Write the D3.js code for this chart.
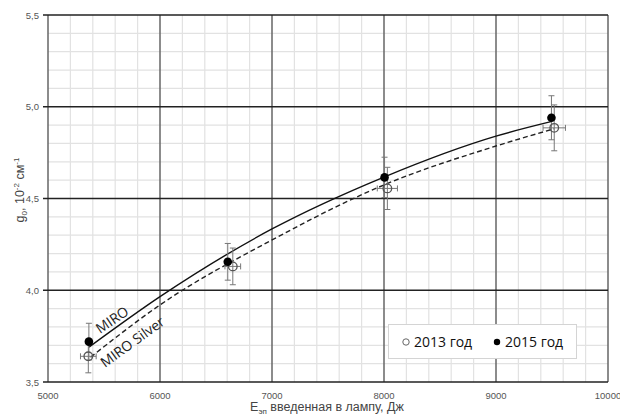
<!DOCTYPE html>
<html>
<head>
<meta charset="utf-8">
<script src="https://cdn.jsdelivr.net/npm/d3@7"></script>
<style>
  body { margin: 0; background: #fff; }
  svg { display: block; }
  .tick-label { font-family: "Liberation Sans", Arial, sans-serif; font-size: 9.5px; fill: #555; }
  .title { font-family: "Liberation Sans", Arial, sans-serif; font-size: 12.5px; fill: #444; }
  .curve-label { font-family: "Open Sans", sans-serif; font-size: 14px; fill: #222; }
  .legend { font-family: "Open Sans", sans-serif; font-size: 14px; fill: #111; }
</style>
</head>
<body>
<svg width="620" height="416"></svg>
<script>
// measured points, 2013
const energy2013 = [5360, 6650, 8030, 9520]
const g2013 = [3.64, 4.13, 4.555, 4.885]
const yerr2013 = [0.09, 0.1, 0.115, 0.125]
const xerr2013 = [70, 70, 90, 100]

// measured points, 2015
const energy2015 = [5365, 6605, 8005, 9495]
const g2015 = [3.72, 4.155, 4.615, 4.94]
const yerr2015 = [0.1, 0.1, 0.11, 0.12]

// fitted curves
const miroE = [5366, 6000, 7000, 8000, 9000, 9500]
const miroG = [3.69, 3.965, 4.334, 4.617, 4.84, 4.92]
const silverE = [5380, 6000, 7000, 8000, 9000, 9520]
const silverG = [3.635, 3.92, 4.274, 4.574, 4.786, 4.88]

const xTicks = [5000, 6000, 7000, 8000, 9000, 10000]
const yTicks = [3.5, 4.0, 4.5, 5.0, 5.5]

const svg = d3.select('svg')

const x = d3.scaleLinear().domain([5000, 10000]).range([48, 608])
const y = d3.scaleLinear().domain([3.5, 5.5]).range([382, 15])

// minor grid
svg.append('g')
  .selectAll('line')
  .data(d3.range(5000, 10001, 200).filter(v => v % 1000 !== 0))
  .enter()
  .append('line')
  .attr('x1', d => x(d)).attr('x2', d => x(d))
  .attr('y1', y(3.5)).attr('y2', y(5.5))
  .attr('stroke', '#e2e2e2').attr('stroke-width', 1.2)

svg.append('g')
  .selectAll('line')
  .data(d3.range(35, 56, 1).map(v => v / 10).filter(v => Math.round(v * 10) % 5 !== 0))
  .enter()
  .append('line')
  .attr('x1', x(5000)).attr('x2', x(10000))
  .attr('y1', d => y(d)).attr('y2', d => y(d))
  .attr('stroke', '#e2e2e2').attr('stroke-width', 1.2)

// major grid
svg.append('g')
  .selectAll('line')
  .data(xTicks)
  .enter()
  .append('line')
  .attr('x1', d => x(d)).attr('x2', d => x(d))
  .attr('y1', y(3.5)).attr('y2', y(5.5))
  .attr('stroke', '#666').attr('stroke-width', 1.5)

svg.append('g')
  .selectAll('line')
  .data(yTicks)
  .enter()
  .append('line')
  .attr('x1', x(5000) - 5).attr('x2', x(10000))
  .attr('y1', d => y(d)).attr('y2', d => y(d))
  .attr('stroke', '#222').attr('stroke-width', 1.4)

// tick labels
svg.append('g')
  .selectAll('text')
  .data(yTicks)
  .enter()
  .append('text')
  .attr('class', 'tick-label')
  .attr('x', x(5000) - 9)
  .attr('y', d => y(d) + 3.5)
  .attr('text-anchor', 'end')
  .text(d => d3.format('.1f')(d).replace('.', ','))

svg.append('g')
  .selectAll('text')
  .data(xTicks)
  .enter()
  .append('text')
  .attr('class', 'tick-label')
  .attr('x', d => x(d))
  .attr('y', 399)
  .attr('text-anchor', 'middle')
  .text(d => d)

// axis titles
const xt = svg.append('text').attr('class', 'title').attr('x', 327).attr('y', 411).attr('text-anchor', 'middle')
xt.append('tspan').text('E')
xt.append('tspan').attr('font-size', '8px').attr('dy', 3).text('эп')
xt.append('tspan').attr('dy', -3).text(' введенная  в лампу, Дж')

const yt = svg.append('text').attr('class', 'title')
  .attr('transform', 'translate(24,190) rotate(-90)').attr('text-anchor', 'middle')
yt.append('tspan').text('g')
yt.append('tspan').attr('font-size', '8px').attr('dy', 3).text('0')
yt.append('tspan').attr('dy', -3).text(', 10')
yt.append('tspan').attr('font-size', '8px').attr('dy', -5).text('-2')
yt.append('tspan').attr('dy', 5).text(' см')
yt.append('tspan').attr('font-size', '8px').attr('dy', -5).text('-1')

// curves
const line = d3.line().x(d => x(d[0])).y(d => y(d[1])).curve(d3.curveMonotoneX)

svg.append('path')
  .datum(d3.zip(miroE, miroG))
  .attr('d', line)
  .attr('fill', 'none').attr('stroke', '#111').attr('stroke-width', 1.4)

svg.append('path')
  .datum(d3.zip(silverE, silverG))
  .attr('d', line)
  .attr('fill', 'none').attr('stroke', '#222').attr('stroke-width', 1.4)
  .attr('stroke-dasharray', '5,3')

svg.append('text').attr('class', 'curve-label')
  .attr('transform', 'translate(100,334) rotate(-34)')
  .text('MIRO')
svg.append('text').attr('class', 'curve-label')
  .attr('transform', 'translate(105,368) rotate(-36)')
  .text('MIRO Silver')

// error bars
const pts2013 = d3.zip(energy2013, g2013, yerr2013, xerr2013)
const pts2015 = d3.zip(energy2015, g2015, yerr2015)
const cap = 3

const eb = svg.append('g').attr('stroke', '#777').attr('stroke-width', 1)
pts2015.concat(pts2013).forEach(d => {
  eb.append('line').attr('x1', x(d[0])).attr('x2', x(d[0])).attr('y1', y(d[1] - d[2])).attr('y2', y(d[1] + d[2]))
  eb.append('line').attr('x1', x(d[0]) - cap).attr('x2', x(d[0]) + cap).attr('y1', y(d[1] - d[2])).attr('y2', y(d[1] - d[2]))
  eb.append('line').attr('x1', x(d[0]) - cap).attr('x2', x(d[0]) + cap).attr('y1', y(d[1] + d[2])).attr('y2', y(d[1] + d[2]))
})
pts2013.forEach(d => {
  eb.append('line').attr('x1', x(d[0] - d[3])).attr('x2', x(d[0] + d[3])).attr('y1', y(d[1])).attr('y2', y(d[1]))
  eb.append('line').attr('x1', x(d[0] - d[3])).attr('x2', x(d[0] - d[3])).attr('y1', y(d[1]) - cap).attr('y2', y(d[1]) + cap)
  eb.append('line').attr('x1', x(d[0] + d[3])).attr('x2', x(d[0] + d[3])).attr('y1', y(d[1]) - cap).attr('y2', y(d[1]) + cap)
})

// markers
svg.append('g')
  .selectAll('circle')
  .data(pts2013)
  .enter()
  .append('circle')
  .attr('cx', d => x(d[0])).attr('cy', d => y(d[1])).attr('r', 4.3)
  .attr('fill', 'none').attr('stroke', '#555').attr('stroke-width', 1.3)

svg.append('g')
  .selectAll('circle')
  .data(pts2015)
  .enter()
  .append('circle')
  .attr('cx', d => x(d[0])).attr('cy', d => y(d[1])).attr('r', 4.3)
  .attr('fill', '#000')

// legend
const lg = svg.append('g')
lg.append('rect').attr('x', 388.5).attr('y', 324.5).attr('width', 188).attr('height', 34)
  .attr('fill', '#fff').attr('stroke', '#d4d4d4')
lg.append('circle').attr('cx', 406).attr('cy', 342).attr('r', 3.2)
  .attr('fill', '#fff').attr('stroke', '#666').attr('stroke-width', 1)
lg.append('text').attr('class', 'legend').attr('x', 414).attr('y', 347).text('2013 год')
lg.append('circle').attr('cx', 497).attr('cy', 342).attr('r', 3.2).attr('fill', '#000')
lg.append('text').attr('class', 'legend').attr('x', 505).attr('y', 347).text('2015 год')
</script>
</body>
</html>
